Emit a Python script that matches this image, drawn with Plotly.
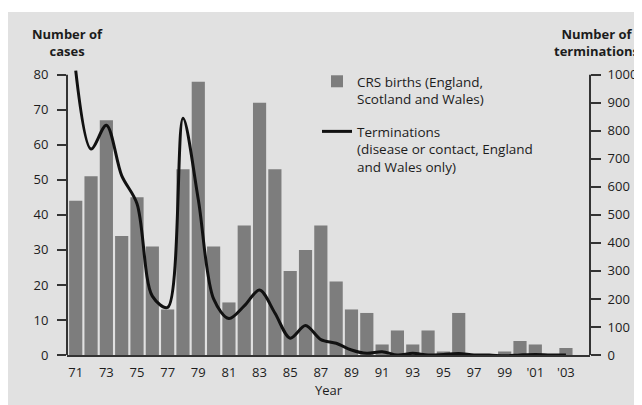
import plotly.graph_objects as go

years = list(range(1971, 2004))
crs_births = [44, 51, 67, 34, 45, 31, 13, 53, 78, 31, 15, 37, 72, 53, 24, 30, 37,
              21, 13, 12, 3, 7, 3, 7, 1, 12, 0, 0, 1, 4, 3, 0, 2]
terminations = [1015, 735, 820, 640, 540, 210, 170, 845, 555, 200, 130, 175, 232,
                150, 60, 105, 55, 42, 18, 6, 12, 0, 6, 0, 2, 5, 0, 0, -3, 0, 2, 0, 0]
tick_years = list(range(1971, 2004, 2))
tick_text = ["71", "73", "75", "77", "79", "81", "83", "85", "87", "89", "91",
             "93", "95", "97", "99", "'01", "'03"]
left_ticks = list(range(0, 81, 10))
right_ticks = list(range(0, 1001, 100))

BG = "#e1e1e1"
BAR = "#7d7d7d"
TXT = "#1c1c1c"
FONT = "Open Sans"

fig = go.Figure()
fig.add_trace(go.Bar(
    x=years, y=crs_births, width=0.86, marker=dict(color=BAR, line=dict(width=0)),
    name="CRS births (England,<br>Scotland and Wales)", legendgroup="a",
))
fig.add_trace(go.Scatter(
    x=years, y=terminations, yaxis="y2", mode="lines",
    line=dict(color="#111111", width=3, shape="spline", smoothing=0.9),
    name="Terminations<br>(disease or contact, England<br>and Wales only)", legendgroup="b",
))

# page body has an 8px margin; the figure sits at (8, 8) in the window
fig.update_layout(
    width=634, height=397,
    margin=dict(l=59, r=52, t=58, b=50, autoexpand=False),
    paper_bgcolor=BG, plot_bgcolor=BG,
    font=dict(family=FONT, size=13, color=TXT),
    showlegend=True,
    legend=dict(x=0.478, y=1.0, xanchor="left", yanchor="top", bgcolor="rgba(0,0,0,0)",
                valign="top", tracegroupgap=12, font=dict(size=13.5, color=TXT),
                itemwidth=30),
    xaxis=dict(range=[1970.43, 2004.57], tickvals=tick_years, ticktext=tick_text,
               automargin=False,
               showgrid=False, zeroline=False, showline=True, linecolor="#333",
               linewidth=2, ticks="", ticklabelstandoff=4,
               tickfont=dict(size=13, color=TXT),
               title=dict(text="Year", standoff=5, font=dict(size=13, color=TXT))),
    yaxis=dict(range=[0, 82.5], tickvals=left_ticks, showgrid=False, zeroline=False,
               automargin=False,
               showline=False, ticks="outside", ticklen=9, tickwidth=1.5, tickcolor="#333",
               ticklabelstandoff=6, tickfont=dict(size=13, color=TXT)),
    yaxis2=dict(range=[0, 1031.25], tickvals=right_ticks, overlaying="y", side="right",
                automargin=False,
                showgrid=False, zeroline=False, showline=False, ticks="outside",
                ticklen=10, tickwidth=1.5, tickcolor="#333", ticklabelstandoff=4,
                tickfont=dict(size=13, color=TXT)),
    bargap=0.14,
)

# axis spines ending at the top tick values
fig.add_shape(type="line", xref="paper", yref="y", x0=0, x1=0, y0=0, y1=80,
              line=dict(color="#333", width=2))
fig.add_shape(type="line", xref="paper", yref="y", x0=1, x1=1, y0=0, y1=80,
              line=dict(color="#333", width=2))

# white strip above the grey panel
fig.add_shape(type="rect", xref="paper", yref="paper", x0=-0.2, x1=1.2,
              y0=(347 - 4) / 289, y1=1.5, fillcolor="white", line=dict(width=0),
              layer="below")

fig.add_annotation(text="<b>Number of<br>cases</b>", xref="paper", yref="paper",
                   x=0.0, y=(355 - 42.5) / 289, xanchor="center", yanchor="middle",
                   showarrow=False, font=dict(size=13, color=TXT))
fig.add_annotation(text="<b>Number of<br>terminations</b>", xref="paper", yref="paper",
                   x=(633 - 59) / 523, y=(355 - 42.5) / 289, xanchor="right",
                   yanchor="middle", showarrow=False, font=dict(size=13, color=TXT))

fig.write_html("out.html")
